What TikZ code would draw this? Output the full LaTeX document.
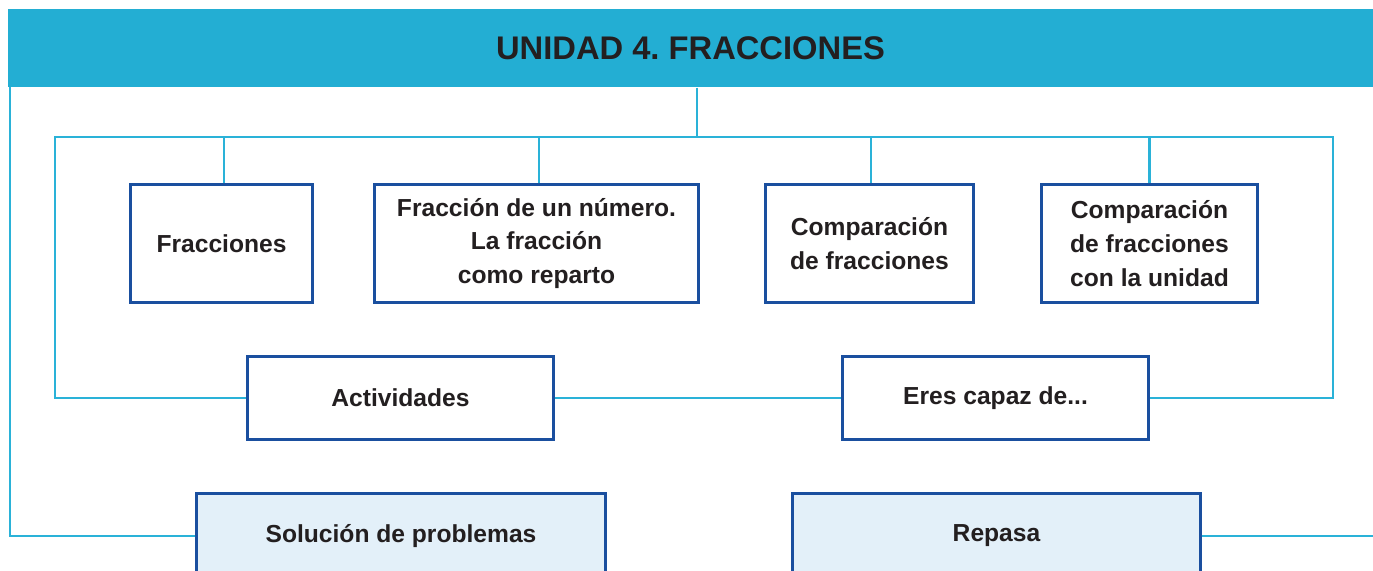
\documentclass[tikz,border=0pt]{standalone}
\usepackage{fontspec}
\setmainfont{Liberation Sans}
\usetikzlibrary{positioning}
\frenchspacing

\definecolor{barcyan}{HTML}{23AED3}
\definecolor{linkcyan}{HTML}{2AB2D8}
\definecolor{boxblue}{HTML}{1A4F9F}
\definecolor{palefill}{HTML}{E3F0F9}
\definecolor{inkdark}{HTML}{231F20}

\begin{document}
\begin{tikzpicture}[
    x=0.01cm, y=-0.01cm,
    topic/.style={draw=boxblue, line width=0.85pt, fill=white, inner sep=0pt,
                  align=center, text=inkdark,
                  font=\fontsize{7}{9.6}\selectfont\bfseries},
    extra/.style={topic, fill=palefill},
    link/.style={draw=linkcyan, line width=0.7pt}
  ]
  \clip (0,0) rectangle (1373,571);

  % Title bar
  \node[fill=barcyan, inner sep=0pt, minimum width=13.65cm, minimum height=0.78cm,
        text=inkdark, font=\fontsize{9.3}{11}\selectfont\bfseries]
    (title) at (690.5,48) {UNIDAD 4. FRACCIONES};

  % Frame corners
  \coordinate (ftop) at (697,137);
  \coordinate (fl) at (55,137);
  \coordinate (fr) at (1333,137);
  \coordinate (ol) at (10,87);
  \coordinate (orr) at (1373,536);

  % Top row
  \node[topic, minimum width=1.81cm, minimum height=1.17cm] (frac) at (221.5,243.5)
    {Fracciones};
  \node[topic, minimum width=3.23cm, minimum height=1.17cm] (fnum) at (536.5,243.5)
    {Fracción de un número.\\La fracción\\como reparto};
  \node[topic, minimum width=2.07cm, minimum height=1.17cm] (comp) at (869.5,243.5)
    {Comparación\\de fracciones};
  \node[topic, minimum width=2.15cm, minimum height=1.17cm] (compu) at (1149.5,243.5)
    {Comparación\\de fracciones\\con la unidad};

  % Middle row
  \node[topic, minimum width=3.05cm, minimum height=0.82cm] (activ) at (400.5,398)
    {Actividades};
  \node[topic, minimum width=3.05cm, minimum height=0.82cm] (eres) at (995.5,398)
    {Eres capaz de...};

  % Bottom row
  \node[extra, minimum width=4.08cm, minimum height=0.84cm] (sol) at (401,536)
    {Solución de problemas};
  \node[extra, minimum width=4.07cm, minimum height=0.84cm] (repasa) at (996.5,536)
    {Repasa};

  % Connectors
  \draw[link] (title.south -| ftop) -- (ftop);
  \draw[link] (activ.west) -| (fl) -- (fr) |- (eres.east);
  \draw[link] (activ.east) -- (eres.west);
  \foreach \n/\dx in {frac/2.5,fnum/2.5,comp/1.5,compu/0}
    \draw[link] ([xshift=\dx*0.01cm]\n.north) -- ([xshift=\dx*0.01cm]\n.north |- ftop);
  \draw[link] (sol.west) -| (ol);
  \draw[link] (repasa.east) -- (orr);
\end{tikzpicture}
\end{document}
